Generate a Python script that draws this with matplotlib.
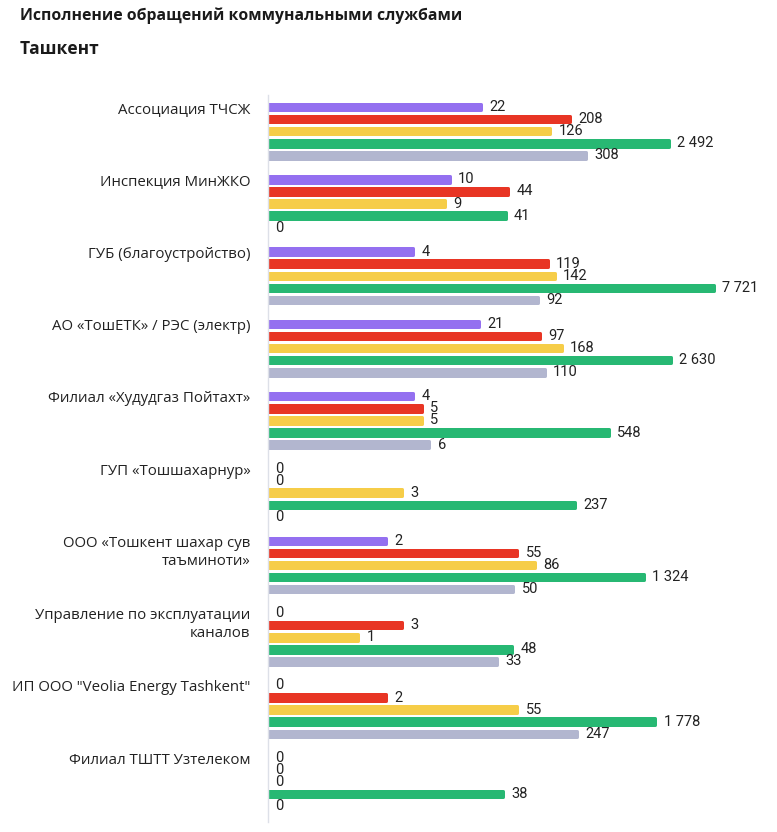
import matplotlib
matplotlib.use("Agg")
import matplotlib.pyplot as plt
import numpy as np

title = "Исполнение обращений коммунальными службами"
subtitle = "Ташкент"
categories = [
    "Ассоциация ТЧСЖ",
    "Инспекция МинЖКО",
    "ГУБ (благоустройство)",
    "АО «ТошЕТК» / РЭС (электр)",
    "Филиал «Худудгаз Пойтахт»",
    "ГУП «Тошшахарнур»",
    "ООО «Тошкент шахар сув\nтаъминоти»",
    "Управление по эксплуатации\nканалов",
    "ИП ООО \"Veolia Energy Tashkent\"",
    "Филиал ТШТТ Узтелеком",
]
series_purple = [22, 10, 4, 21, 4, 0, 2, 0, 0, 0]
series_red = [208, 44, 119, 97, 5, 0, 55, 3, 2, 0]
series_yellow = [126, 9, 142, 168, 5, 3, 86, 1, 55, 0]
series_green = [2492, 41, 7721, 2630, 548, 237, 1324, 48, 1778, 38]
series_grey = [308, 0, 92, 110, 6, 0, 50, 33, 247, 0]
series = [series_purple, series_red, series_yellow, series_green, series_grey]
colors = ["#9470f0", "#e83524", "#f6cd48", "#27b873", "#b2b6cf"]

W, H = 777, 832
fig = plt.figure(figsize=(W / 100, H / 100), dpi=100)
ax_left, ax_right = 268, 765
ax_top, ax_bot = 95, 822
ax = fig.add_axes([ax_left / W, 1 - ax_bot / H, (ax_right - ax_left) / W, (ax_bot - ax_top) / H])
ax.set_xscale("log")
xmin = 10 ** (-90 / 91.5)
decades = (ax_right - ax_left) / 91.5
ax.set_xlim(xmin, xmin * 10 ** decades)
ax.set_ylim(ax_bot - ax_top, 0)

group_step = 72.3
bar_step = 12.1
bar_h = 9.5
edge_px = 3.0
edge_pt = edge_px * 72 / 100
num_font = "Roboto"
lab_font = "Open Sans"

for j, (vals, col) in enumerate(zip(series, colors)):
    vals = np.asarray(vals, dtype=float)
    ys = 12 + group_step * np.arange(len(vals)) + bar_step * j
    mask = vals > 0
    ax.barh(ys[mask], vals[mask] - xmin, left=xmin, height=bar_h - edge_px,
            color=col, edgecolor=col, linewidth=edge_pt, joinstyle="round")
    for y, v in zip(ys, vals):
        xpos = v if v > 0 else xmin
        lab = f"{int(v):,}".replace(",", " ")
        ax.annotate(lab, (xpos, y), xytext=(6 if v > 0 else 5, 0), textcoords="offset points",
                    va="center", ha="left", fontsize=10.5, color="#222222", family=num_font)

for i, cat in enumerate(categories):
    y = 12 + group_step * i - 5
    ax.text(-0.035, y, cat, transform=ax.get_yaxis_transform(), ha="right", va="top",
            fontsize=10.8, color="#222222", family=lab_font, linespacing=1.25)

for s in ["top", "right", "bottom"]:
    ax.spines[s].set_visible(False)
ax.spines["left"].set_color("#dde0e8")
ax.spines["left"].set_linewidth(1)
ax.set_xticks([])
ax.set_xticks([], minor=True)
ax.set_yticks([])
ax.tick_params(left=False, bottom=False, which="both")

fig.text(20 / W, 1 - 16 / H, title, ha="left", va="center", fontsize=11.3,
         fontweight="bold", color="#1a1a1a", family=lab_font)
fig.text(20 / W, 1 - 49 / H, subtitle, ha="left", va="center", fontsize=12.5,
         fontweight="bold", color="#1a1a1a", family=lab_font)

fig.savefig("out.png", dpi=100)
